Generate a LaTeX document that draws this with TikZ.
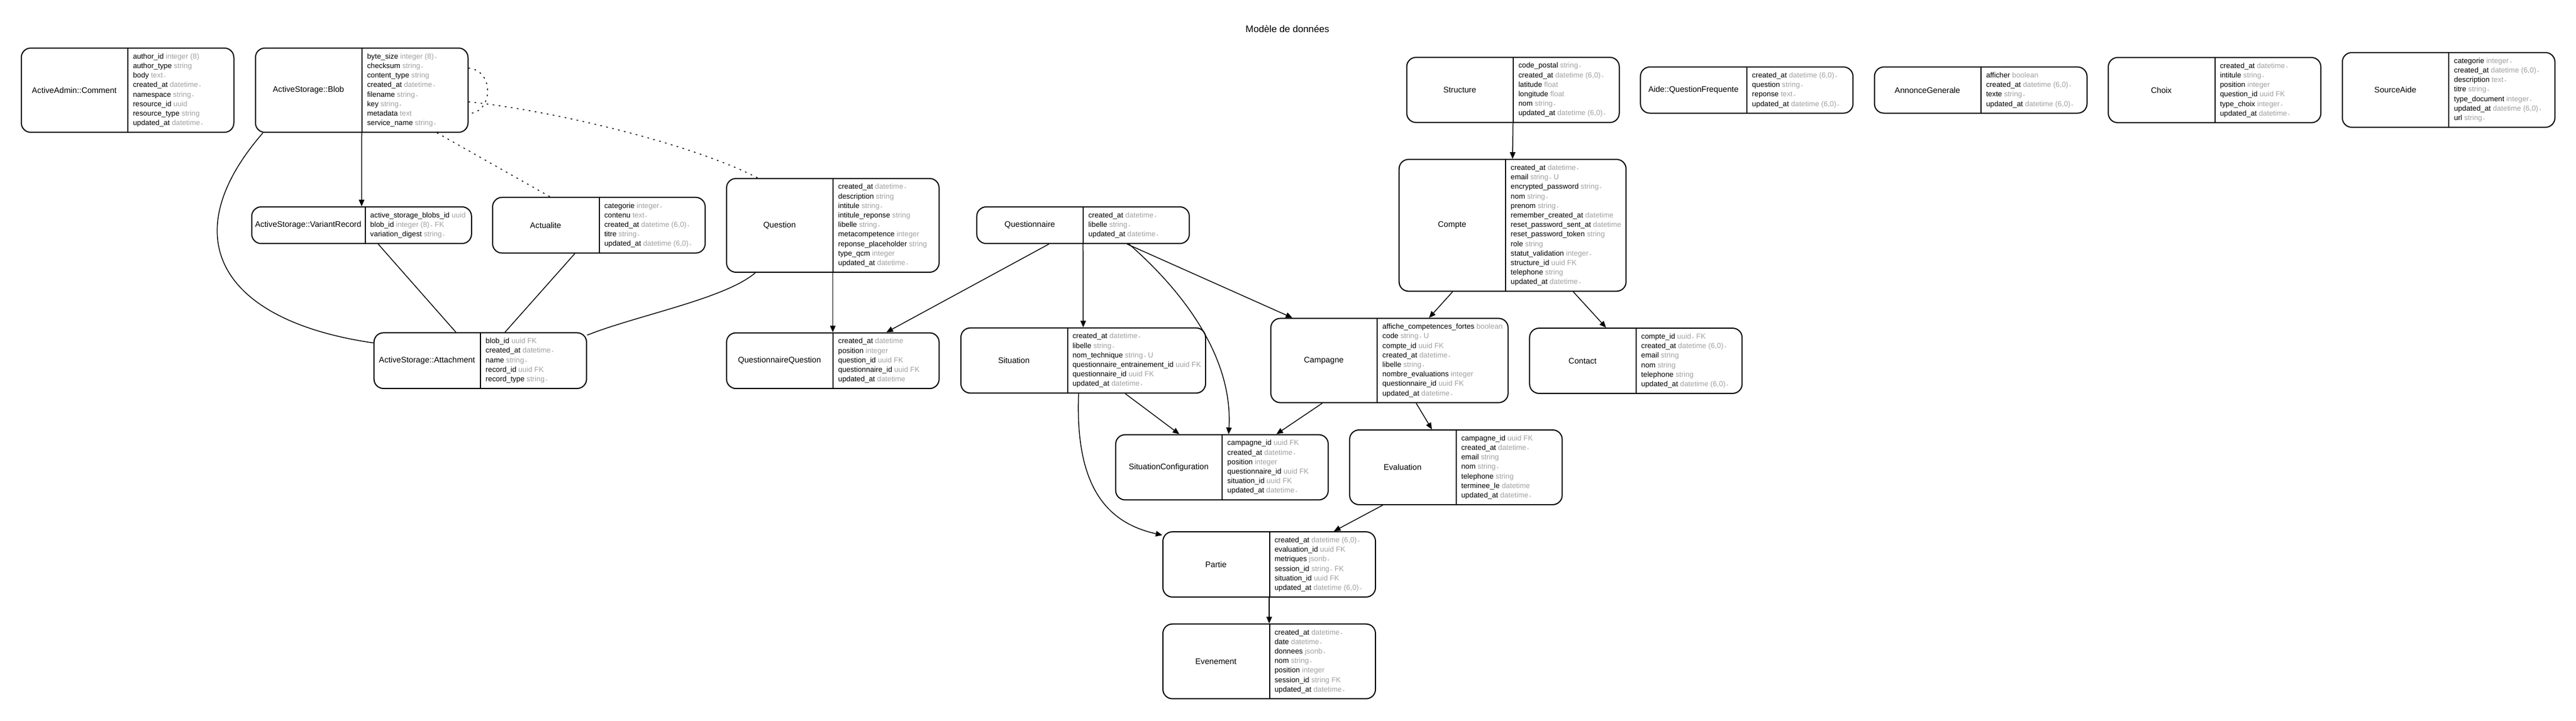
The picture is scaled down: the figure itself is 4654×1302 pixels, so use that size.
\documentclass[tikz,border=0pt]{standalone}
\usepackage{fontspec}
\setmainfont{Liberation Sans}
\usepackage{tikz}
\usetikzlibrary{arrows.meta,positioning}
\definecolor{ty}{RGB}{160,160,160}
\newcommand{\fld}[2]{#1 {\color{ty}#2}}
\newcommand{\nnl}{{\fontsize{8}{8}\selectfont\,$\ast$}}

\begin{document}
\begin{tikzpicture}[x=1pt,y=-1pt,line width=1.5pt,
  >={Triangle[length=12pt,width=10pt]},
  ent/.style={draw,rounded corners=17pt,inner sep=0pt,line width=2pt},
  ttl/.style={inner sep=0pt,anchor=west,font=\fontsize{14.65}{17}\selectfont},
  fld/.style={inner sep=0pt,align=left,font=\fontsize{13.3}{17.2}\selectfont},
  part/.style={line width=2pt},
  poly/.style={dash pattern=on 3pt off 8pt}]

\fill[white] (0,0) rectangle (4654,1302);
\node[font=\fontsize{17.2}{20}\selectfont] (titre) at (2326,52) {Modèle de données};

\node[ent, minimum width=384, minimum height=152.2] (comment) at (230.5,163) {};
\node[ttl, minimum width=192, minimum height=152.2] (commentT) at (comment.west) {ActiveAdmin::Comment};
\node[fld, right=8.5pt of commentT] (commentF) {\fld{author\_id}{integer (8)}\\ \fld{author\_type}{string}\\ \fld{body}{text\nnl}\\ \fld{created\_at}{datetime\nnl}\\ \fld{namespace}{string\nnl}\\ \fld{resource\_id}{uuid}\\ \fld{resource\_type}{string}\\ \fld{updated\_at}{datetime\nnl}};
\draw[part] (commentT.north east) -- (commentT.south east);

\node[ent, minimum width=384, minimum height=152.2] (blob) at (653.5,163) {};
\node[ttl, minimum width=192, minimum height=152.2] (blobT) at (blob.west) {ActiveStorage::Blob};
\node[fld, right=8.5pt of blobT] (blobF) {\fld{byte\_size}{integer (8)\nnl}\\ \fld{checksum}{string\nnl}\\ \fld{content\_type}{string}\\ \fld{created\_at}{datetime\nnl}\\ \fld{filename}{string\nnl}\\ \fld{key}{string\nnl}\\ \fld{metadata}{text}\\ \fld{service\_name}{string\nnl}};
\draw[part] (blobT.north east) -- (blobT.south east);

\node[ent, minimum width=397, minimum height=66.2] (variant) at (653.3,407) {};
\node[ttl, minimum width=204.4, minimum height=66.2] (variantT) at (variant.west) {ActiveStorage::VariantRecord};
\node[fld, right=8.5pt of variantT] (variantF) {\fld{active\_storage\_blobs\_id}{uuid}\\ \fld{blob\_id}{integer (8)\nnl{} FK}\\ \fld{variation\_digest}{string\nnl}};
\draw[part] (variantT.north east) -- (variantT.south east);

\node[ent, minimum width=384, minimum height=100.6] (actualite) at (1082,407) {};
\node[ttl, minimum width=192, minimum height=100.6] (actualiteT) at (actualite.west) {Actualite};
\node[fld, right=8.5pt of actualiteT] (actualiteF) {\fld{categorie}{integer\nnl}\\ \fld{contenu}{text\nnl}\\ \fld{created\_at}{datetime (6,0)\nnl}\\ \fld{titre}{string\nnl}\\ \fld{updated\_at}{datetime (6,0)\nnl}};
\draw[part] (actualiteT.north east) -- (actualiteT.south east);

\node[ent, minimum width=384, minimum height=100.6] (attachment) at (867.7,651.7) {};
\node[ttl, minimum width=192, minimum height=100.6] (attachmentT) at (attachment.west) {ActiveStorage::Attachment};
\node[fld, right=8.5pt of attachmentT] (attachmentF) {\fld{blob\_id}{uuid FK}\\ \fld{created\_at}{datetime\nnl}\\ \fld{name}{string\nnl}\\ \fld{record\_id}{uuid FK}\\ \fld{record\_type}{string\nnl}};
\draw[part] (attachmentT.north east) -- (attachmentT.south east);

\node[ent, minimum width=384, minimum height=169.4] (question) at (1504.6,407.3) {};
\node[ttl, minimum width=192, minimum height=169.4] (questionT) at (question.west) {Question};
\node[fld, right=8.5pt of questionT] (questionF) {\fld{created\_at}{datetime\nnl}\\ \fld{description}{string}\\ \fld{intitule}{string\nnl}\\ \fld{intitule\_reponse}{string}\\ \fld{libelle}{string\nnl}\\ \fld{metacompetence}{integer}\\ \fld{reponse\_placeholder}{string}\\ \fld{type\_qcm}{integer}\\ \fld{updated\_at}{datetime\nnl}};
\draw[part] (questionT.north east) -- (questionT.south east);

\node[ent, minimum width=384, minimum height=100.6] (qq) at (1504.6,651.8) {};
\node[ttl, minimum width=192, minimum height=100.6] (qqT) at (qq.west) {QuestionnaireQuestion};
\node[fld, right=8.5pt of qqT] (qqF) {\fld{created\_at}{datetime}\\ \fld{position}{integer}\\ \fld{question\_id}{uuid FK}\\ \fld{questionnaire\_id}{uuid FK}\\ \fld{updated\_at}{datetime}};
\draw[part] (qqT.north east) -- (qqT.south east);

\node[ent, minimum width=384, minimum height=66.2] (questionnaire) at (1956.7,407) {};
\node[ttl, minimum width=192, minimum height=66.2] (questionnaireT) at (questionnaire.west) {Questionnaire};
\node[fld, right=8.5pt of questionnaireT] (questionnaireF) {\fld{created\_at}{datetime\nnl}\\ \fld{libelle}{string\nnl}\\ \fld{updated\_at}{datetime\nnl}};
\draw[part] (questionnaireT.north east) -- (questionnaireT.south east);

\node[ent, minimum width=442, minimum height=117.8] (situation) at (1957,651.5) {};
\node[ttl, minimum width=192, minimum height=117.8] (situationT) at (situation.west) {Situation};
\node[fld, right=8.5pt of situationT] (situationF) {\fld{created\_at}{datetime\nnl}\\ \fld{libelle}{string\nnl}\\ \fld{nom\_technique}{string\nnl{} U}\\ \fld{questionnaire\_entrainement\_id}{uuid FK}\\ \fld{questionnaire\_id}{uuid FK}\\ \fld{updated\_at}{datetime\nnl}};
\draw[part] (situationT.north east) -- (situationT.south east);

\node[ent, minimum width=410, minimum height=238.2] (compte) at (2732.7,407.2) {};
\node[ttl, minimum width=192, minimum height=238.2] (compteT) at (compte.west) {Compte};
\node[fld, right=8.5pt of compteT] (compteF) {\fld{created\_at}{datetime\nnl}\\ \fld{email}{string\nnl{} U}\\ \fld{encrypted\_password}{string\nnl}\\ \fld{nom}{string\nnl}\\ \fld{prenom}{string\nnl}\\ \fld{remember\_created\_at}{datetime}\\ \fld{reset\_password\_sent\_at}{datetime}\\ \fld{reset\_password\_token}{string}\\ \fld{role}{string}\\ \fld{statut\_validation}{integer\nnl}\\ \fld{structure\_id}{uuid FK}\\ \fld{telephone}{string}\\ \fld{updated\_at}{datetime\nnl}};
\draw[part] (compteT.north east) -- (compteT.south east);

\node[ent, minimum width=428.7, minimum height=152.2] (campagne) at (2510.3,651.5) {};
\node[ttl, minimum width=192, minimum height=152.2] (campagneT) at (campagne.west) {Campagne};
\node[fld, right=8.5pt of campagneT] (campagneF) {\fld{affiche\_competences\_fortes}{boolean}\\ \fld{code}{string\nnl{} U}\\ \fld{compte\_id}{uuid FK}\\ \fld{created\_at}{datetime\nnl}\\ \fld{libelle}{string\nnl}\\ \fld{nombre\_evaluations}{integer}\\ \fld{questionnaire\_id}{uuid FK}\\ \fld{updated\_at}{datetime\nnl}};
\draw[part] (campagneT.north east) -- (campagneT.south east);

\node[ent, minimum width=384, minimum height=117.8] (contact) at (2955.4,652) {};
\node[ttl, minimum width=192, minimum height=117.8] (contactT) at (contact.west) {Contact};
\node[fld, right=8.5pt of contactT] (contactF) {\fld{compte\_id}{uuid\nnl{} FK}\\ \fld{created\_at}{datetime (6,0)\nnl}\\ \fld{email}{string}\\ \fld{nom}{string}\\ \fld{telephone}{string}\\ \fld{updated\_at}{datetime (6,0)\nnl}};
\draw[part] (contactT.north east) -- (contactT.south east);

\node[ent, minimum width=384, minimum height=117.8] (structure) at (2733.5,162.5) {};
\node[ttl, minimum width=192, minimum height=117.8] (structureT) at (structure.west) {Structure};
\node[fld, right=8.5pt of structureT] (structureF) {\fld{code\_postal}{string\nnl}\\ \fld{created\_at}{datetime (6,0)\nnl}\\ \fld{latitude}{float}\\ \fld{longitude}{float}\\ \fld{nom}{string\nnl}\\ \fld{updated\_at}{datetime (6,0)\nnl}};
\draw[part] (structureT.north east) -- (structureT.south east);

\node[ent, minimum width=384, minimum height=83.4] (aide) at (3155.7,162.8) {};
\node[ttl, minimum width=192, minimum height=83.4] (aideT) at (aide.west) {Aide::QuestionFrequente};
\node[fld, right=8.5pt of aideT] (aideF) {\fld{created\_at}{datetime (6,0)\nnl}\\ \fld{question}{string\nnl}\\ \fld{reponse}{text\nnl}\\ \fld{updated\_at}{datetime (6,0)\nnl}};
\draw[part] (aideT.north east) -- (aideT.south east);

\node[ent, minimum width=384, minimum height=83.4] (annonce) at (3578.5,162.8) {};
\node[ttl, minimum width=192, minimum height=83.4] (annonceT) at (annonce.west) {AnnonceGenerale};
\node[fld, right=8.5pt of annonceT] (annonceF) {\fld{afficher}{boolean}\\ \fld{created\_at}{datetime (6,0)\nnl}\\ \fld{texte}{string\nnl}\\ \fld{updated\_at}{datetime (6,0)\nnl}};
\draw[part] (annonceT.north east) -- (annonceT.south east);

\node[ent, minimum width=384, minimum height=117.8] (choix) at (4001,162.8) {};
\node[ttl, minimum width=192, minimum height=117.8] (choixT) at (choix.west) {Choix};
\node[fld, right=8.5pt of choixT] (choixF) {\fld{created\_at}{datetime\nnl}\\ \fld{intitule}{string\nnl}\\ \fld{position}{integer}\\ \fld{question\_id}{uuid FK}\\ \fld{type\_choix}{integer\nnl}\\ \fld{updated\_at}{datetime\nnl}};
\draw[part] (choixT.north east) -- (choixT.south east);

\node[ent, minimum width=384, minimum height=135] (sourceaide) at (4423.8,162.5) {};
\node[ttl, minimum width=192, minimum height=135] (sourceaideT) at (sourceaide.west) {SourceAide};
\node[fld, right=8.5pt of sourceaideT] (sourceaideF) {\fld{categorie}{integer\nnl}\\ \fld{created\_at}{datetime (6,0)\nnl}\\ \fld{description}{text\nnl}\\ \fld{titre}{string\nnl}\\ \fld{type\_document}{integer\nnl}\\ \fld{updated\_at}{datetime (6,0)\nnl}\\ \fld{url}{string\nnl}};
\draw[part] (sourceaideT.north east) -- (sourceaideT.south east);

\node[ent, minimum width=384, minimum height=117.8] (sitconf) at (2207.7,844.5) {};
\node[ttl, minimum width=192, minimum height=117.8] (sitconfT) at (sitconf.west) {SituationConfiguration};
\node[fld, right=8.5pt of sitconfT] (sitconfF) {\fld{campagne\_id}{uuid FK}\\ \fld{created\_at}{datetime\nnl}\\ \fld{position}{integer}\\ \fld{questionnaire\_id}{uuid FK}\\ \fld{situation\_id}{uuid FK}\\ \fld{updated\_at}{datetime\nnl}};
\draw[part] (sitconfT.north east) -- (sitconfT.south east);

\node[ent, minimum width=384, minimum height=135] (evaluation) at (2630.3,844.5) {};
\node[ttl, minimum width=192, minimum height=135] (evaluationT) at (evaluation.west) {Evaluation};
\node[fld, right=8.5pt of evaluationT] (evaluationF) {\fld{campagne\_id}{uuid FK}\\ \fld{created\_at}{datetime\nnl}\\ \fld{email}{string}\\ \fld{nom}{string\nnl}\\ \fld{telephone}{string}\\ \fld{terminee\_le}{datetime}\\ \fld{updated\_at}{datetime\nnl}};
\draw[part] (evaluationT.north east) -- (evaluationT.south east);

\node[ent, minimum width=384, minimum height=117.8] (partie) at (2293,1020) {};
\node[ttl, minimum width=192, minimum height=117.8] (partieT) at (partie.west) {Partie};
\node[fld, right=8.5pt of partieT] (partieF) {\fld{created\_at}{datetime (6,0)\nnl}\\ \fld{evaluation\_id}{uuid FK}\\ \fld{metriques}{jsonb\nnl}\\ \fld{session\_id}{string\nnl{} FK}\\ \fld{situation\_id}{uuid FK}\\ \fld{updated\_at}{datetime (6,0)\nnl}};
\draw[part] (partieT.north east) -- (partieT.south east);

\node[ent, minimum width=384, minimum height=135] (evenement) at (2293,1195.2) {};
\node[ttl, minimum width=192, minimum height=135] (evenementT) at (evenement.west) {Evenement};
\node[fld, right=8.5pt of evenementT] (evenementF) {\fld{created\_at}{datetime\nnl}\\ \fld{date}{datetime\nnl}\\ \fld{donnees}{jsonb\nnl}\\ \fld{nom}{string\nnl}\\ \fld{position}{integer}\\ \fld{session\_id}{string FK}\\ \fld{updated\_at}{datetime\nnl}};
\draw[part] (evenementT.north east) -- (evenementT.south east);

\draw[->] (blob.south) -- (variant.north);
\draw ([xshift=14.5pt]blob.south west) .. controls (310,430) and (400,580) .. ([yshift=32pt]attachment.west);
\draw[poly] ([yshift=40pt]blob.east) .. controls (895,128) and (890,205) .. ([yshift=-42pt]blob.east);
\draw[poly] ([yshift=-21pt]blob.east) .. controls (1000,200) and (1250,260) .. ([xshift=-135.6pt]question.north);
\draw[poly] ([xshift=-57pt]blob.south east) -- ([xshift=-88pt]actualite.north);
\draw ([xshift=30pt]variant.south) -- ([xshift=-44pt]attachment.north);
\draw ([xshift=-43.5pt]actualite.south) -- ([xshift=44.6pt]attachment.north);
\draw ([xshift=53pt]question.south west) .. controls (1310,540) and (1150,570) .. ([yshift=46pt]attachment.east);

\draw[->] (question.south) -- (qq.north);
\draw[->] ([xshift=-61.7pt]questionnaire.south) -- ([xshift=96.8pt]qq.north);
\draw[->] (questionnaire.south) -- (situation.north);
\draw[->] ([xshift=-113.5pt]questionnaire.south east) -- ([xshift=40pt]campagne.north west);
\draw[->] ([xshift=-110pt]questionnaire.south east) .. controls (2130,520) and (2228,640) .. ([xshift=12pt]sitconf.north);
\draw[->] ([xshift=76pt]situation.south) -- ([xshift=-77pt]sitconf.north);
\draw[->] ([xshift=-8.3pt]situation.south) .. controls (1942,880) and (2000,945) .. ([yshift=-7pt]partie.north west);

\draw[->] ([xshift=-121.3pt]campagne.south) -- ([xshift=98.3pt]sitconf.north);
\draw[->] ([xshift=48.2pt]campagne.south) -- ([xshift=-43.3pt]evaluation.north);
\draw[->] ([xshift=-132.3pt]evaluation.south) -- ([xshift=116.8pt]partie.north);
\draw[->] (partie.south) -- (evenement.north);
\draw[->] ([xshift=-108.4pt]compte.south) -- ([xshift=71.5pt]campagne.north);
\draw[->] ([xshift=109.7pt]compte.south) -- ([xshift=-53.8pt]contact.north);
\draw[->] (structure.south) -- (compte.north);

\end{tikzpicture}
\end{document}
